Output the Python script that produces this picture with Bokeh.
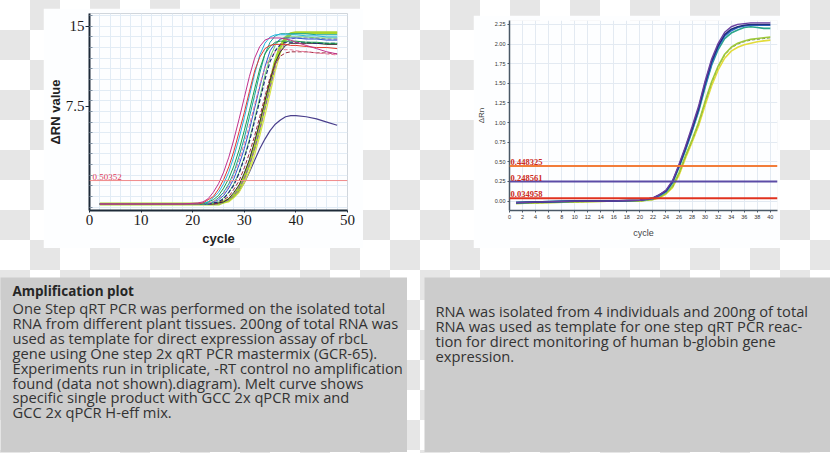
from bokeh.plotting import figure
from bokeh.layouts import column, row
from bokeh.models import (Range1d, FixedTicker, SingleIntervalTicker, Label, Span,
                          NumeralTickFormatter)
from bokeh.embed import file_html
from bokeh.resources import INLINE

# ---------------- data: left chart (rbcL amplification) ----------------
L_CYCLES = [2, 10, 18, 21, 22, 23, 24, 25, 26, 27, 28, 29, 30, 31, 32, 33, 34, 35,
            36, 37, 38, 39, 40, 42, 44, 46, 48]
L_MAGENTA = [-1.7, -1.7, -1.7, -1.6, -1.5, -1.2, -0.6, 0.2, 1.3, 2.7, 4.4, 6.3, 8.3, 10.3, 12.0, 13.1, 13.7, 13.9, 13.9, 13.9, 13.8, 13.7, 13.5, 13.2, 12.9, 12.6, 12.4]
L_RED = [-1.7, -1.7, -1.7, -1.7, -1.6, -1.3, -1.0, -0.3, 0.6, 1.8, 3.3, 5.1, 6.9, 8.9, 10.8, 12.1, 12.9, 13.2, 13.3, 13.3, 13.3, 13.2, 13.2, 13.1, 13.0, 13.0, 12.9]
L_CYAN = [-1.7, -1.7, -1.7, -1.7, -1.6, -1.5, -1.1, -0.6, 0.2, 1.3, 2.8, 4.5, 6.4, 8.5, 10.5, 12.3, 13.4, 14.0, 14.2, 14.2, 14.2, 14.2, 14.2, 14.1, 14.1, 14.0, 14.0]
L_GREEN = [-1.7, -1.7, -1.7, -1.7, -1.7, -1.5, -1.3, -0.9, -0.2, 0.7, 1.9, 3.4, 5.2, 7.1, 9.1, 11.0, 12.4, 13.1, 13.5, 13.6, 13.6, 13.6, 13.6, 13.5, 13.5, 13.4, 13.4]
L_PINK = [-1.7, -1.7, -1.7, -1.7, -1.7, -1.6, -1.5, -1.2, -0.7, 0.0, 1.1, 2.4, 4.0, 5.7, 7.6, 9.5, 11.1, 12.1, 12.6, 12.8, 12.8, 12.8, 12.7, 12.6, 12.5, 12.4, 12.3]
L_TEAL = [-1.7, -1.7, -1.7, -1.7, -1.7, -1.6, -1.5, -1.1, -0.6, 0.2, 1.3, 2.8, 4.5, 6.5, 8.5, 10.6, 12.4, 13.5, 14.1, 14.3, 14.3, 14.3, 14.3, 14.3, 14.2, 14.2, 14.2]
L_BLUE = [-1.7, -1.7, -1.7, -1.7, -1.7, -1.7, -1.5, -1.3, -0.9, -0.2, 0.7, 2.0, 3.5, 5.3, 7.3, 9.3, 11.2, 12.7, 13.4, 13.8, 13.9, 13.9, 13.9, 13.8, 13.8, 13.7, 13.7]
L_NAVY = [-1.7, -1.7, -1.7, -1.7, -1.7, -1.7, -1.6, -1.5, -1.2, -0.6, 0.1, 1.2, 2.6, 4.2, 6.1, 8.0, 10.0, 11.7, 12.7, 13.3, 13.5, 13.5, 13.5, 13.5, 13.4, 13.4, 13.4]
L_LIGHTGREEN = [-1.7, -1.7, -1.7, -1.7, -1.7, -1.7, -1.6, -1.5, -1.1, -0.6, 0.2, 1.3, 2.7, 4.4, 6.3, 8.3, 10.4, 12.1, 13.2, 13.8, 14.0, 14.0, 14.0, 14.0, 13.9, 13.9, 13.9]
L_DARKRED = [-1.7, -1.7, -1.7, -1.7, -1.7, -1.7, -1.7, -1.6, -1.3, -1.0, -0.3, 0.5, 1.7, 3.1, 4.7, 6.5, 8.4, 10.2, 11.5, 12.2, 12.5, 12.6, 12.6, 12.6, 12.5, 12.5, 12.4]
L_BLACK = [-1.7, -1.7, -1.7, -1.7, -1.7, -1.7, -1.7, -1.6, -1.5, -1.2, -0.6, 0.1, 1.2, 2.5, 4.2, 6.0, 8.0, 9.9, 11.6, 12.6, 13.2, 13.4, 13.4, 13.4, 13.4, 13.3, 13.3]
L_PURPLE = [-1.7, -1.7, -1.7, -1.7, -1.7, -1.7, -1.7, -1.7, -1.5, -1.3, -0.9, -0.2, 0.7, 2.0, 3.5, 5.3, 7.3, 9.3, 11.2, 12.7, 13.4, 13.8, 13.9, 13.9, 13.9, 13.8, 13.8]
L_LIME = [-1.7, -1.7, -1.7, -1.7, -1.7, -1.7, -1.7, -1.7, -1.5, -1.3, -0.9, -0.2, 0.8, 2.1, 3.7, 5.5, 7.6, 9.6, 11.7, 13.1, 13.9, 14.3, 14.4, 14.4, 14.4, 14.4, 14.4]
L_YELLOW = [-1.7, -1.7, -1.7, -1.7, -1.7, -1.7, -1.7, -1.7, -1.6, -1.5, -1.1, -0.6, 0.3, 1.4, 2.9, 4.7, 6.6, 8.7, 10.8, 12.5, 13.6, 14.2, 14.4, 14.4, 14.4, 14.4, 14.4]
L_LOW = [-1.7, -1.7, -1.7, -1.7, -1.7, -1.7, -1.7, -1.6, -1.5, -1.3, -1.0, -0.5, 0.3, 1.3, 2.4, 3.5, 4.4, 5.2, 5.8, 6.2, 6.5, 6.6, 6.6, 6.5, 6.3, 6.0, 5.7]
L_THRESHOLD = 0.50352
L_XTICKS = [0, 10, 20, 30, 40, 50]
L_YTICKS = [7.5, 15]

# ---------------- data: right chart (b-globin amplification) ----------------
R_CYCLES = [1, 5, 10, 15, 20, 22, 23, 24, 25, 26, 27, 28, 29, 30, 31, 32, 33, 34,
            35, 36, 37, 38, 39, 40]
R_PURPLE = [-0.02, -0.01, 0.0, 0.0, 0.01, 0.04, 0.08, 0.14, 0.26, 0.47, 0.70, 0.95, 1.21, 1.53, 1.81, 2.01, 2.15, 2.22, 2.25, 2.26, 2.27, 2.27, 2.27, 2.27]
R_NAVY = [-0.02, -0.01, 0.0, 0.0, 0.01, 0.04, 0.08, 0.13, 0.25, 0.45, 0.68, 0.92, 1.18, 1.50, 1.78, 1.98, 2.12, 2.19, 2.22, 2.24, 2.25, 2.25, 2.25, 2.25]
R_BLUE = [-0.02, -0.01, 0.0, 0.0, 0.01, 0.03, 0.07, 0.12, 0.24, 0.44, 0.66, 0.90, 1.16, 1.47, 1.75, 1.96, 2.10, 2.17, 2.21, 2.23, 2.24, 2.24, 2.24, 2.24]
R_TEAL = [-0.02, -0.01, 0.0, 0.0, 0.01, 0.03, 0.07, 0.12, 0.23, 0.43, 0.65, 0.89, 1.14, 1.45, 1.73, 1.93, 2.07, 2.14, 2.18, 2.21, 2.22, 2.21, 2.20, 2.20]
R_LIME = [-0.03, -0.02, -0.01, 0.0, 0.0, 0.02, 0.05, 0.10, 0.19, 0.36, 0.58, 0.78, 1.00, 1.27, 1.52, 1.72, 1.87, 1.96, 2.01, 2.04, 2.06, 2.07, 2.08, 2.09]
R_OLIVE = [-0.03, -0.02, -0.01, 0.0, 0.0, 0.02, 0.05, 0.10, 0.18, 0.35, 0.57, 0.77, 0.99, 1.26, 1.51, 1.71, 1.86, 1.95, 2.00, 2.03, 2.05, 2.06, 2.07, 2.08]
R_YELLOW = [-0.03, -0.02, -0.01, 0.0, 0.0, 0.02, 0.04, 0.09, 0.17, 0.33, 0.55, 0.75, 0.96, 1.22, 1.47, 1.67, 1.82, 1.91, 1.96, 1.99, 2.01, 2.03, 2.04, 2.05]
R_THRESHOLDS = [0.448325, 0.248561, 0.034958]
R_THRESHOLD_LABELS = ["0.448325", "0.248561", "0.034958"]

# ---------------- text ----------------
LEFT_TITLE = "Amplification plot"
LEFT_LINES = [
    "One Step qRT  PCR was performed on the isolated total",
    "RNA from different plant tissues. 200ng of total RNA was",
    "used as template for direct expression assay of rbcL",
    "gene using One step 2x qRT PCR mastermix (GCR-65).",
    "Experiments run in triplicate, -RT control no amplification",
    "found (data not shown).diagram). Melt curve shows",
    "specific single product with GCC 2x qPCR mix and",
    "GCC 2x qPCR H-eff mix.",
]
RIGHT_LINES = [
    "RNA was isolated from 4 individuals and 200ng of total",
    "RNA was used as template for one step qRT PCR reac-",
    "tion for direct monitoring of human b-globin gene",
    "expression.",
]

SERIF = "Liberation Serif"
SANS = "Liberation Sans"
BODY = "Open Sans"

# ================= left chart =================
p1 = figure(width=320, height=240, x_range=Range1d(0, 50), y_range=Range1d(-2.31, 16.2),
            output_backend="svg", toolbar_location=None,
            min_border_left=46, min_border_right=16, min_border_top=5, min_border_bottom=35,
            background_fill_color="#fdfeff", border_fill_color="#fdfeff",
            outline_line_color="#d0d6dc", margin=(8, 0, 0, 43))
p1.xaxis.ticker = FixedTicker(ticks=L_XTICKS)
p1.yaxis.ticker = FixedTicker(ticks=L_YTICKS, minor_ticks=list(range(-2, 17)))
p1.xgrid.ticker = SingleIntervalTicker(interval=2)
p1.ygrid.ticker = SingleIntervalTicker(interval=1)
p1.grid.grid_line_color = "#e2ecf5"
p1.grid.grid_line_width = 1
for ax in (p1.xaxis[0], p1.yaxis[0]):
    ax.axis_line_color = "#1d2a38"
    ax.axis_line_width = 2
    ax.major_tick_line_color = "#1d2a38"
    ax.major_label_text_font = SERIF
    ax.major_label_text_font_size = "15px"
    ax.major_label_text_color = "#1a1a1a"
    ax.axis_label_text_font = SANS
    ax.axis_label_text_font_style = "bold"
    ax.axis_label_text_font_size = "13px"
    ax.axis_label_text_color = "#222222"
p1.xaxis.major_tick_out = 2
p1.xaxis.major_tick_in = 0
p1.xaxis.minor_tick_line_color = None
p1.xaxis.major_label_standoff = 2
p1.xaxis.axis_label = "cycle"
p1.xaxis.axis_label_standoff = 3
p1.yaxis.major_tick_out = 4
p1.yaxis.major_tick_in = 0
p1.yaxis.minor_tick_in = 3
p1.yaxis.minor_tick_out = 0
p1.yaxis.minor_tick_line_color = "#8090a0"
p1.yaxis.major_label_standoff = 1
p1.yaxis.axis_label = "\u0394RN value"
p1.yaxis.axis_label_standoff = 0

p1.add_layout(Span(location=L_THRESHOLD, dimension="width", line_color="#f08a8a", line_width=1))
p1.add_layout(Label(x=0, y=L_THRESHOLD, text=f"{L_THRESHOLD:.5f}", x_offset=3, y_offset=1,
                    text_baseline="bottom", text_font=SERIF, text_font_size="9px",
                    text_color="#e0405a"))

left_series = [
    (L_LOW, "#4a3f8c", 1.2, "solid"),
    (L_YELLOW, "#d9e24a", 1.2, "solid"),
    (L_LIME, "#a8d62c", 3.0, "solid"),
    (L_PURPLE, "#8b50c4", 1.0, "dashed"),
    (L_BLACK, "#2e2e2e", 1.0, "solid"),
    (L_DARKRED, "#9c2a3c", 1.0, "dashed"),
    (L_LIGHTGREEN, "#6fcf6a", 1.0, "solid"),
    (L_NAVY, "#1b2a77", 1.2, "dashed"),
    (L_BLUE, "#2e59d1", 1.0, "solid"),
    (L_TEAL, "#16a39c", 1.0, "solid"),
    (L_PINK, "#e8789a", 1.0, "dashed"),
    (L_GREEN, "#1f9e48", 1.0, "solid"),
    (L_CYAN, "#27b5e3", 1.0, "solid"),
    (L_RED, "#e23a2e", 1.0, "solid"),
    (L_MAGENTA, "#c2308c", 1.0, "solid"),
]
for ys, col, w, dash in left_series:
    p1.line(L_CYCLES, ys, line_color=col, line_width=w,
            line_dash="4 2" if dash == "dashed" else "solid")

# ================= right chart =================
p2 = figure(width=307, height=233, x_range=Range1d(0, 41.1), y_range=Range1d(-0.12, 2.30),
            output_backend="svg", toolbar_location=None,
            min_border_left=36, min_border_right=3, min_border_top=5, min_border_bottom=27,
            background_fill_color="#fdfeff", border_fill_color="#fdfeff",
            outline_line_color=None, margin=(15, 0, 0, 110))
p2.xaxis.ticker = SingleIntervalTicker(interval=2, num_minor_ticks=0)
p2.yaxis.ticker = SingleIntervalTicker(interval=0.25, num_minor_ticks=0)
p2.yaxis.formatter = NumeralTickFormatter(format="0.00")
p2.grid.grid_line_color = "#e3eaf2"
for ax in (p2.xaxis[0], p2.yaxis[0]):
    ax.axis_line_color = "#4a5866"
    ax.axis_line_width = 1.5
    ax.major_tick_line_color = "#4a5866"
    ax.major_tick_out = 2
    ax.major_tick_in = 0
    ax.minor_tick_line_color = None
    ax.major_label_standoff = 2
    ax.major_label_text_font = SANS
    ax.major_label_text_font_size = "5.5px"
    ax.major_label_text_color = "#333333"
    ax.axis_label_text_font = SANS
    ax.axis_label_text_font_style = "normal"
    ax.axis_label_text_color = "#444444"
p2.xaxis.axis_label = "cycle"
p2.xaxis.axis_label_text_font_size = "9px"
p2.xaxis.axis_label_standoff = 6
p2.yaxis.axis_label = "\u0394Rn"
p2.yaxis.axis_label_text_font_size = "8px"
p2.yaxis.axis_label_standoff = 6

right_series = [
    (R_YELLOW, "#e3dc3a", 1.6, "solid"),
    (R_OLIVE, "#4d5a2a", 0.8, "dashed"),
    (R_LIME, "#9dc93a", 1.6, "solid"),
    (R_TEAL, "#2aa58a", 1.6, "solid"),
    (R_BLUE, "#2f6fcf", 1.6, "solid"),
    (R_NAVY, "#1f2f7a", 1.6, "solid"),
    (R_PURPLE, "#6a3fa0", 1.4, "solid"),
]
for ys, col, w, dash in right_series:
    p2.line(R_CYCLES, ys, line_color=col, line_width=w,
            line_dash="3 2" if dash == "dashed" else "solid")

for val, lab, col in zip(R_THRESHOLDS, R_THRESHOLD_LABELS, ["#f27d3a", "#5b4ba6", "#e0321f"]):
    p2.add_layout(Span(location=val, dimension="width", line_color=col, line_width=2))
    p2.add_layout(Label(x=0, y=val, text=lab, x_offset=1, y_offset=1,
                        text_baseline="bottom", text_font=SERIF, text_font_style="bold",
                        text_font_size="8.5px", text_color="#cc2a22"))

# ================= text boxes =================
def text_box(w, h, margin):
    b = figure(width=w, height=h, x_range=Range1d(0, w), y_range=Range1d(h, 0),
               output_backend="svg", toolbar_location=None, x_axis_type=None, y_axis_type=None,
               min_border=0, background_fill_color="#cccccc", border_fill_color="#cccccc",
               outline_line_color=None, margin=margin)
    b.grid.visible = False
    return b

BODY_SIZE = "14.7px"
b1 = text_box(407, 175, (29, 0, 0, 0))
b1.text(x=[12], y=[13], text=[LEFT_TITLE], text_font={"value": BODY}, text_font_style="bold",
        text_font_size="13.5px", text_color="#262626", text_baseline="middle")
b1.text(x=[12] * len(LEFT_LINES), y=[30.7 + 14.86 * i for i in range(len(LEFT_LINES))],
        text=LEFT_LINES, text_font={"value": BODY}, text_font_size=BODY_SIZE,
        text_color="#333333", text_baseline="middle")

b2 = text_box(406, 175, (29, 0, 0, 17))
b2.text(x=[11] * len(RIGHT_LINES), y=[33 + 15 * i for i in range(len(RIGHT_LINES))],
        text=RIGHT_LINES, text_font={"value": BODY}, text_font_size=BODY_SIZE,
        text_color="#333333", text_baseline="middle")

page = column(row(p1, p2), row(b1, b2), width=830, height=453,
              styles={"background": "repeating-conic-gradient(#e6e6e6 0% 25%, #ffffff 0% 50%) 0 0 / 60px 60px"})

open("out.html", "w").write(file_html(page, INLINE))
